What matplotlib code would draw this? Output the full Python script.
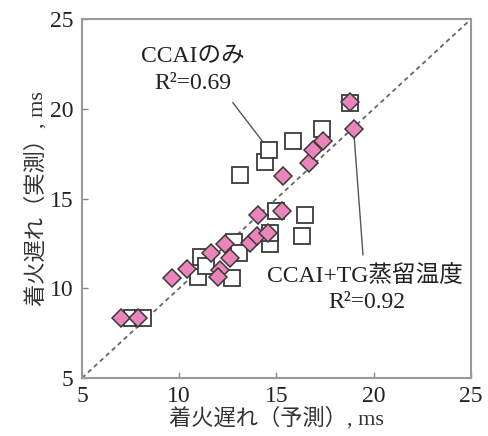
import matplotlib
matplotlib.use('Agg')
from matplotlib import pyplot as plt

plt.rcParams['font.family'] = ['Liberation Serif', 'Noto Sans CJK JP']

# CCAI+TG distillation temperature model (diamonds)
pred_tg = [7.0, 7.9, 9.65, 10.4, 11.65, 12.1, 12.0, 12.35, 12.6, 13.65,
           14.0, 14.55, 14.05, 15.3, 15.35, 16.65, 16.9, 17.4, 18.8, 19.0]
meas_tg = [8.35, 8.35, 10.6, 11.1, 11.95, 11.0, 10.65, 12.45, 11.7, 12.5,
           12.9, 13.1, 14.1, 14.3, 16.25, 17.0, 17.7, 18.2, 20.4, 18.9]

# CCAI only model (open squares)
pred_ccai = [7.55, 8.15, 10.95, 11.1, 11.4, 12.7, 12.8, 13.05, 14.65, 14.65,
             15.0, 16.3, 16.45, 13.1, 14.4, 14.6, 15.85, 17.35, 18.8]
meas_ccai = [8.35, 8.35, 10.65, 11.75, 11.25, 10.6, 12.6, 11.95, 12.45, 13.1,
             14.3, 12.9, 14.1, 16.3, 17.05, 17.7, 18.2, 18.9, 20.35]

ticks = [5, 10, 15, 20, 25]

fig = plt.figure(figsize=(4.88, 4.36), dpi=100)
ax = fig.add_axes([0.168, 0.133, 0.797, 0.823])

ax.plot([5, 25], [5, 25], ls=(0, (2.5, 2)), c='#666666', lw=1.3, zorder=1)
ax.plot(pred_ccai, meas_ccai, 's', ms=11, mfc='white', mec='#3a3a3a', mew=1.3, zorder=2)
ax.plot(pred_tg, meas_tg, 'D', ms=9.5, mfc='#ea84bb', mec='#3a3a3a', mew=1.1, zorder=3)

ax.set_xlim(5, 25)
ax.set_ylim(5, 25)
ax.set_xticks(ticks)
ax.set_yticks(ticks)
ax.tick_params(direction='in', length=4, width=1, color='#888888', labelsize=17,
               labelcolor='#222222', pad=6)
for s in ax.spines.values():
    s.set_color('#999999')
    s.set_linewidth(1.5)

ax.set_xlabel('着火遅れ（予測）, ms', fontsize=16, color='#333333', labelpad=0)
ax.set_ylabel('着火遅れ（実測）, ms', fontsize=16, color='#333333', labelpad=2)

ax.text(10.7, 22.95, 'CCAIのみ', fontsize=17, ha='center', va='center', color='#222222')
ax.text(10.7, 21.4, 'R²=0.69', fontsize=17, ha='center', va='center', color='#222222')
ax.plot([12.76, 14.3], [20.34, 18.17], c='#555555', lw=1, zorder=1)

ax.text(19.55, 10.7, 'CCAI+TG蒸留温度', fontsize=17, ha='center', va='center', color='#222222')
ax.text(19.65, 9.2, 'R²=0.92', fontsize=17, ha='center', va='center', color='#222222')
ax.plot([18.98, 19.45], [18.67, 11.87], c='#555555', lw=1, zorder=1)

plt.savefig('out.png')
